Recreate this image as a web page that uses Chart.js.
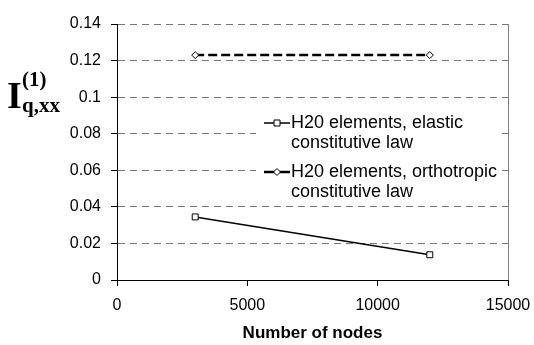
<!DOCTYPE html>
<html>
<head>
<meta charset="utf-8">
<script src="https://cdn.jsdelivr.net/npm/chart.js@4/dist/chart.umd.min.js"></script>
<style>
  html, body { margin: 0; padding: 0; background: #fff; }
  #wrap { width: 534px; height: 345px; }
</style>
</head>
<body>
<div id="wrap"><canvas id="chart"></canvas></div>
<script>
// data
const nodes = [3000, 12000];
const elasticValues = [0.0345, 0.0138];
const orthotropicValues = [0.123, 0.123];
const seriesLabels = [
    ["H20 elements, elastic", "constitutive law"],
    ["H20 elements, orthotropic", "constitutive law"]
];
const xRange = [0, 15000, 5000];
const yRange = [0, 0.14, 0.02];

const sans = "'Liberation Sans', Arial, sans-serif";
const serif = "'Liberation Serif', 'Times New Roman', serif";

// legend drawn inside the plot, multi-line labels
const boxLegend = {
    id: 'boxLegend',
    afterDraw(chart) {
        const ctx = chart.ctx;
        ctx.save();
        ctx.fillStyle = '#fff';
        ctx.fillRect(256, 108, 246, 93);
        ctx.font = '18px ' + sans;
        ctx.textBaseline = 'middle';
        ctx.fillStyle = '#000';
        chart.data.datasets.forEach((ds, i) => {
            const y = 123 + i * 49;
            ctx.strokeStyle = '#000';
            ctx.lineWidth = ds.borderWidth;
            ctx.setLineDash([]);
            ctx.beginPath();
            ctx.moveTo(264, y);
            ctx.lineTo(290, y);
            ctx.stroke();
            ctx.lineWidth = 1;
            ctx.fillStyle = '#fff';
            ctx.beginPath();
            if (ds.pointStyle === 'rect') {
                ctx.rect(274, y - 3, 6, 6);
            } else {
                ctx.moveTo(273.5, y);
                ctx.lineTo(277, y - 3.5);
                ctx.lineTo(280.5, y);
                ctx.lineTo(277, y + 3.5);
                ctx.closePath();
            }
            ctx.fill();
            ctx.stroke();
            ctx.fillStyle = '#000';
            seriesLabels[i].forEach((line, j) => {
                ctx.fillText(line, 291, y + j * 20);
            });
        });
        ctx.restore();
    }
};

// right border of the plot area and the y axis title
const frame = {
    id: 'frame',
    beforeDatasetsDraw(chart) {
        const {ctx, chartArea} = chart;
        ctx.save();
        ctx.strokeStyle = '#808080';
        ctx.lineWidth = 1;
        ctx.beginPath();
        ctx.moveTo(chartArea.right + 0.5, chartArea.top);
        ctx.lineTo(chartArea.right + 0.5, chartArea.bottom);
        ctx.stroke();
        ctx.restore();
    },
    afterDraw(chart) {
        const ctx = chart.ctx;
        ctx.save();
        ctx.fillStyle = '#000';
        ctx.textBaseline = 'alphabetic';
        ctx.font = 'bold 38px ' + serif;
        ctx.fillText('I', 7, 108);
        ctx.font = 'bold 21px ' + serif;
        ctx.fillText('(1)', 22, 86);
        ctx.fillText('q,xx', 22, 112);
        ctx.restore();
    }
};

new Chart(document.getElementById('chart'), {
    type: 'line',
    data: {
        datasets: [
            {
                label: seriesLabels[0].join(' '),
                data: nodes.map((x, i) => ({x: x, y: elasticValues[i]})),
                borderColor: '#000',
                borderWidth: 1.5,
                pointStyle: 'rect',
                pointRadius: 4.2,
                pointBorderWidth: 1,
                pointBackgroundColor: '#fff',
                pointBorderColor: '#000',
                tension: 0
            },
            {
                label: seriesLabels[1].join(' '),
                data: nodes.map((x, i) => ({x: x, y: orthotropicValues[i]})),
                borderColor: '#000',
                borderWidth: 2.5,
                borderDash: [9, 4],
                pointStyle: 'rectRot',
                pointRadius: 3.5,
                pointBorderWidth: 1,
                pointBackgroundColor: '#fff',
                pointBorderColor: '#000',
                tension: 0
            }
        ]
    },
    options: {
        responsive: true,
        maintainAspectRatio: false,
        animation: false,
        layout: { padding: { top: 24, right: 26, left: 0, bottom: 0 } },
        plugins: {
            legend: { display: false },
            tooltip: { enabled: false }
        },
        scales: {
            x: {
                type: 'linear',
                min: xRange[0],
                max: xRange[1],
                afterFit: (scale) => {
                    scale.height = 65;
                    scale.paddingLeft = 0;
                    scale.paddingRight = 0;
                },
                ticks: {
                    stepSize: xRange[2],
                    color: '#000',
                    font: { family: sans, size: 16 },
                    padding: 10,
                    maxRotation: 0,
                    callback: (v) => String(v)
                },
                grid: {
                    drawOnChartArea: false,
                    drawTicks: true,
                    tickLength: 6,
                    tickColor: '#000'
                },
                border: { color: '#000', width: 1 },
                title: {
                    display: true,
                    text: 'Number of nodes',
                    color: '#000',
                    font: { family: sans, size: 17, weight: 'bold' },
                    padding: { top: 0, bottom: 1 }
                }
            },
            y: {
                min: yRange[0],
                max: yRange[1],
                afterFit: (scale) => {
                    scale.width = 117;
                    scale.paddingTop = 0;
                    scale.paddingBottom = 0;
                },
                ticks: {
                    stepSize: yRange[2],
                    color: '#000',
                    font: { family: sans, size: 16 },
                    padding: 10,
                    callback: (v) => String(+v.toFixed(2))
                },
                grid: {
                    color: '#777777',
                    lineWidth: 1,
                    drawTicks: true,
                    tickLength: 6,
                    tickColor: '#000',
                    tickBorderDash: []
                },
                border: { color: '#000', width: 1, dash: [7, 5] }
            }
        }
    },
    plugins: [frame, boxLegend]
});
</script>
</body>
</html>
